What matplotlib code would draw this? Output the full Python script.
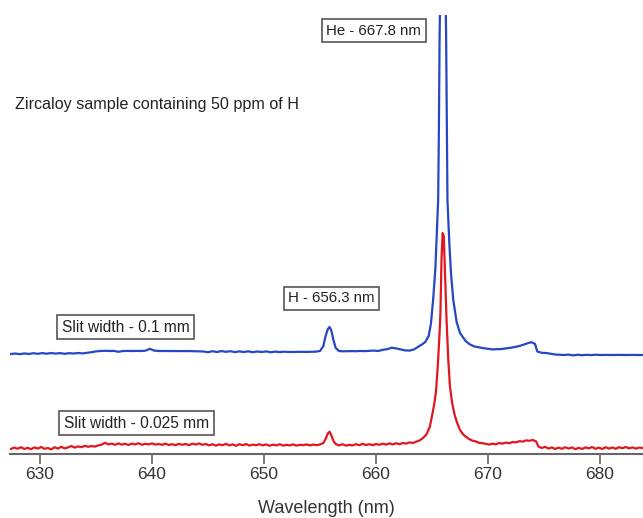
import matplotlib
matplotlib.use("Agg")
import matplotlib.pyplot as plt

plt.rcParams['font.family'] = ['Liberation Sans', 'DejaVu Sans']

# (wavelength nm, intensity a.u.)
blue_spectrum = [
    (627.4, 100.0), (627.8, 100.5), (628.2, 99.8), (628.6, 100.6), (629.0, 100.0), (629.4, 100.8),
    (629.8, 100.2), (630.2, 100.9), (630.6, 100.3), (631.0, 101.0), (631.4, 100.4), (631.8, 100.9),
    (632.2, 100.2), (632.6, 100.8), (633.0, 100.5), (633.4, 101.0), (633.8, 100.6), (634.2, 101.2),
    (634.6, 101.8), (635.0, 102.6), (635.4, 103.0), (635.8, 103.2), (636.2, 103.0), (636.6, 103.1),
    (637.0, 102.2), (637.4, 103.0), (637.8, 103.1), (638.2, 103.0), (638.6, 103.1), (639.0, 103.0),
    (639.4, 103.3), (639.8, 105.2), (640.2, 103.4), (640.6, 103.0), (641.0, 103.0), (641.4, 103.1),
    (641.8, 103.0), (642.2, 102.9), (642.6, 103.0), (643.0, 102.9), (643.4, 102.9), (643.8, 102.8),
    (644.2, 102.8), (644.6, 102.5), (645.0, 101.8), (645.4, 102.8), (645.8, 102.0), (646.2, 102.9),
    (646.6, 102.2), (647.0, 102.8), (647.4, 101.9), (647.8, 102.6), (648.2, 102.0), (648.6, 102.7),
    (649.0, 101.8), (649.4, 102.5), (649.8, 102.0), (650.2, 102.6), (650.6, 101.7), (651.0, 102.4),
    (651.4, 101.9), (651.8, 102.3), (652.2, 102.0), (652.6, 102.1), (653.0, 102.1), (653.4, 102.2),
    (653.8, 102.1), (654.2, 102.2), (654.6, 102.3), (655.0, 103.0), (655.3, 108.0), (655.5, 118.0),
    (655.7, 125.0), (655.85, 127.0), (656.0, 124.0), (656.2, 114.0), (656.4, 106.0), (656.7, 103.0),
    (657.0, 102.7), (657.4, 102.8), (657.8, 102.9), (658.2, 102.8), (658.6, 103.0), (659.0, 102.9),
    (659.4, 103.1), (659.8, 103.4), (660.2, 103.0), (660.6, 104.2), (661.0, 104.8), (661.4, 106.3),
    (661.8, 105.6), (662.2, 104.6), (662.6, 103.6), (663.0, 103.4), (663.4, 104.6), (663.8, 107.5),
    (664.1, 109.5), (664.4, 112.0), (664.7, 118.0), (664.9, 130.0), (665.1, 154.0), (665.3, 185.0),
    (665.45, 225.0), (665.55, 254.0), (665.62, 330.0), (665.68, 420.0), (665.75, 470.0), (666.0, 490.0),
    (666.2, 470.0), (666.26, 420.0), (666.32, 330.0), (666.38, 254.0), (666.55, 210.0), (666.7, 180.0),
    (666.9, 154.0), (667.2, 132.0), (667.5, 121.0), (668.0, 113.0), (668.4, 109.5), (668.8, 107.5),
    (669.2, 106.6), (669.6, 105.8), (670.0, 105.2), (670.4, 104.6), (670.8, 104.8), (671.2, 105.0),
    (671.6, 105.6), (672.0, 106.2), (672.4, 107.0), (672.8, 108.0), (673.2, 109.4), (673.6, 111.0),
    (673.9, 111.8), (674.2, 110.0), (674.4, 102.5), (674.8, 101.2), (675.2, 101.0), (675.6, 100.2),
    (676.0, 99.5), (676.4, 99.2), (676.8, 99.0), (677.2, 99.4), (677.6, 98.6), (678.0, 99.3),
    (678.4, 98.8), (678.8, 99.2), (679.2, 98.9), (679.6, 99.3), (680.0, 99.0), (680.4, 99.1),
    (680.8, 99.0), (681.2, 99.0), (681.6, 99.1), (682.0, 99.0), (682.4, 99.0), (682.8, 99.1),
    (683.2, 99.0), (683.8, 99.0),
]

red_spectrum = [
    (627.4, 5.0), (627.7, 6.5), (628.0, 5.2), (628.3, 6.8), (628.6, 5.0), (628.9, 6.2), (629.2, 4.8),
    (629.5, 6.6), (629.8, 5.4), (630.1, 7.0), (630.4, 5.2), (630.7, 6.0), (631.0, 4.6), (631.3, 6.8),
    (631.6, 5.4), (631.9, 7.2), (632.2, 5.6), (632.5, 6.6), (632.8, 8.0), (633.1, 6.4), (633.4, 7.6),
    (633.7, 6.8), (634.0, 8.2), (634.3, 7.2), (634.6, 8.0), (634.9, 7.4), (635.2, 8.6), (635.5, 9.4),
    (635.8, 11.2), (636.1, 9.6), (636.4, 10.4), (636.7, 9.2), (637.0, 10.6), (637.3, 9.4), (637.6, 10.2),
    (637.9, 9.0), (638.2, 10.4), (638.5, 9.6), (638.8, 10.8), (639.1, 9.2), (639.4, 10.2), (639.7, 9.6),
    (640.0, 10.6), (640.3, 9.4), (640.6, 10.0), (640.9, 9.2), (641.2, 10.4), (641.5, 9.0), (641.8, 9.8),
    (642.1, 8.8), (642.4, 10.2), (642.7, 9.2), (643.0, 10.0), (643.3, 8.8), (643.6, 10.4), (643.9, 9.4),
    (644.2, 10.6), (644.5, 9.2), (644.8, 10.0), (645.1, 8.6), (645.4, 9.8), (645.7, 8.4), (646.0, 9.6),
    (646.3, 8.8), (646.6, 10.2), (646.9, 8.6), (647.2, 9.6), (647.5, 8.2), (647.8, 9.8), (648.1, 8.8),
    (648.4, 10.0), (648.7, 8.4), (649.0, 9.4), (649.3, 8.8), (649.6, 9.8), (649.9, 8.6), (650.2, 9.6),
    (650.5, 8.2), (650.8, 9.4), (651.1, 8.6), (651.4, 9.8), (651.7, 8.4), (652.0, 9.2), (652.3, 8.6),
    (652.6, 9.6), (652.9, 8.4), (653.2, 9.2), (653.5, 8.8), (653.8, 9.6), (654.1, 8.6), (654.4, 9.4),
    (654.7, 8.8), (655.0, 9.6), (655.3, 11.0), (655.5, 15.0), (655.7, 20.5), (655.85, 22.3), (656.0, 19.0),
    (656.2, 13.0), (656.4, 10.0), (656.7, 8.6), (657.0, 9.8), (657.3, 8.4), (657.6, 9.2), (657.9, 8.6),
    (658.2, 9.8), (658.5, 8.8), (658.8, 10.2), (659.1, 9.0), (659.4, 9.8), (659.7, 8.8), (660.0, 10.0),
    (660.3, 9.2), (660.6, 10.4), (660.9, 9.4), (661.2, 10.6), (661.5, 9.6), (661.8, 10.8), (662.1, 9.8),
    (662.4, 11.0), (662.7, 10.4), (663.0, 11.6), (663.3, 11.0), (663.6, 12.4), (663.9, 13.6), (664.2, 16.0),
    (664.5, 19.5), (664.8, 27.0), (665.0, 38.0), (665.2, 50.0), (665.35, 62.0), (665.5, 85.0), (665.65, 115.0),
    (665.75, 140.0), (665.85, 195.0), (665.95, 221.0), (666.05, 218.0), (666.15, 185.0), (666.3, 134.0),
    (666.45, 95.0), (666.6, 68.0), (666.8, 51.0), (667.0, 40.0), (667.25, 31.0), (667.5, 24.0),
    (667.75, 20.0), (668.0, 17.5), (668.3, 15.0), (668.6, 13.4), (668.9, 12.6), (669.2, 11.2), (669.5, 10.8),
    (669.8, 10.2), (670.1, 9.4), (670.4, 10.4), (670.7, 9.6), (671.0, 11.0), (671.3, 10.4), (671.6, 11.4),
    (671.9, 10.8), (672.2, 12.0), (672.5, 11.6), (672.8, 12.8), (673.1, 12.4), (673.4, 13.6), (673.7, 13.2),
    (674.0, 14.0), (674.3, 12.6), (674.5, 7.4), (674.8, 6.0), (675.1, 7.2), (675.4, 5.4), (675.7, 6.6),
    (676.0, 5.0), (676.3, 6.4), (676.6, 5.2), (676.9, 6.8), (677.2, 5.4), (677.5, 6.6), (677.8, 4.8),
    (678.1, 6.2), (678.4, 5.0), (678.7, 6.6), (679.0, 5.6), (679.3, 7.0), (679.6, 5.2), (679.9, 6.4),
    (680.2, 5.0), (680.5, 6.8), (680.8, 5.4), (681.1, 6.6), (681.4, 5.2), (681.7, 6.8), (682.0, 5.8),
    (682.3, 7.0), (682.6, 5.6), (682.9, 6.6), (683.2, 5.4), (683.5, 6.4), (683.8, 6.0),
]

x_ticks = [630, 640, 650, 660, 670, 680]
x_label = "Wavelength (nm)"
title_text = "Zircaloy sample containing 50 ppm of H"
annotations = ["He - 667.8 nm", "H - 656.3 nm", "Slit width - 0.1 mm", "Slit width - 0.025 mm"]

W, H = 643, 518
fig = plt.figure(figsize=(W / 100, H / 100), dpi=100)
ax = fig.add_axes([10 / W, (H - 454) / H, (W - 10) / W, (454 - 15) / H])

bx = [p[0] for p in blue_spectrum]
by = [p[1] for p in blue_spectrum]
rx = [p[0] for p in red_spectrum]
ry = [p[1] for p in red_spectrum]

ax.plot(bx, by, color='#2547c6', lw=1.6, solid_joinstyle='round')
ax.plot(rx, ry, color='#e2161f', lw=1.6, solid_joinstyle='round')

ax.set_xlim(627.32, 683.84)
ax.set_ylim(0, 439)
for s in ['top', 'right', 'left']:
    ax.spines[s].set_visible(False)
ax.spines['bottom'].set_color('#666666')
ax.spines['bottom'].set_linewidth(1.5)
ax.set_yticks([])
ax.set_xticks(x_ticks)
ax.set_xticklabels([str(t) for t in x_ticks])
ax.tick_params(axis='x', direction='out', length=7.5, width=1.2, color='#666666',
               labelsize=12.5, labelcolor='#333333', pad=2)
ax.set_xlabel(x_label, fontsize=13, color='#333333', labelpad=13)

def px(x, y):
    return x / W, 1 - y / H

box = dict(boxstyle='square,pad=0.3', facecolor='white', edgecolor='#555555', linewidth=1.2)
fig.text(*px(373.7, 30.8), annotations[0], ha='center', va='center', fontsize=10.8,
         color='#222222', bbox=box)
fig.text(*px(331.7, 298.0), annotations[1], ha='center', va='center', fontsize=10.8,
         color='#222222', bbox=box)
fig.text(*px(125.5, 327.0), annotations[2], ha='center', va='center', fontsize=11.2,
         color='#222222', bbox=box)
fig.text(*px(136.7, 423.3), annotations[3], ha='center', va='center', fontsize=11.2,
         color='#222222', bbox=box)
fig.text(*px(15, 104), title_text, ha='left', va='center', fontsize=11.6, color='#222222')

fig.savefig('out.png', dpi=100)
